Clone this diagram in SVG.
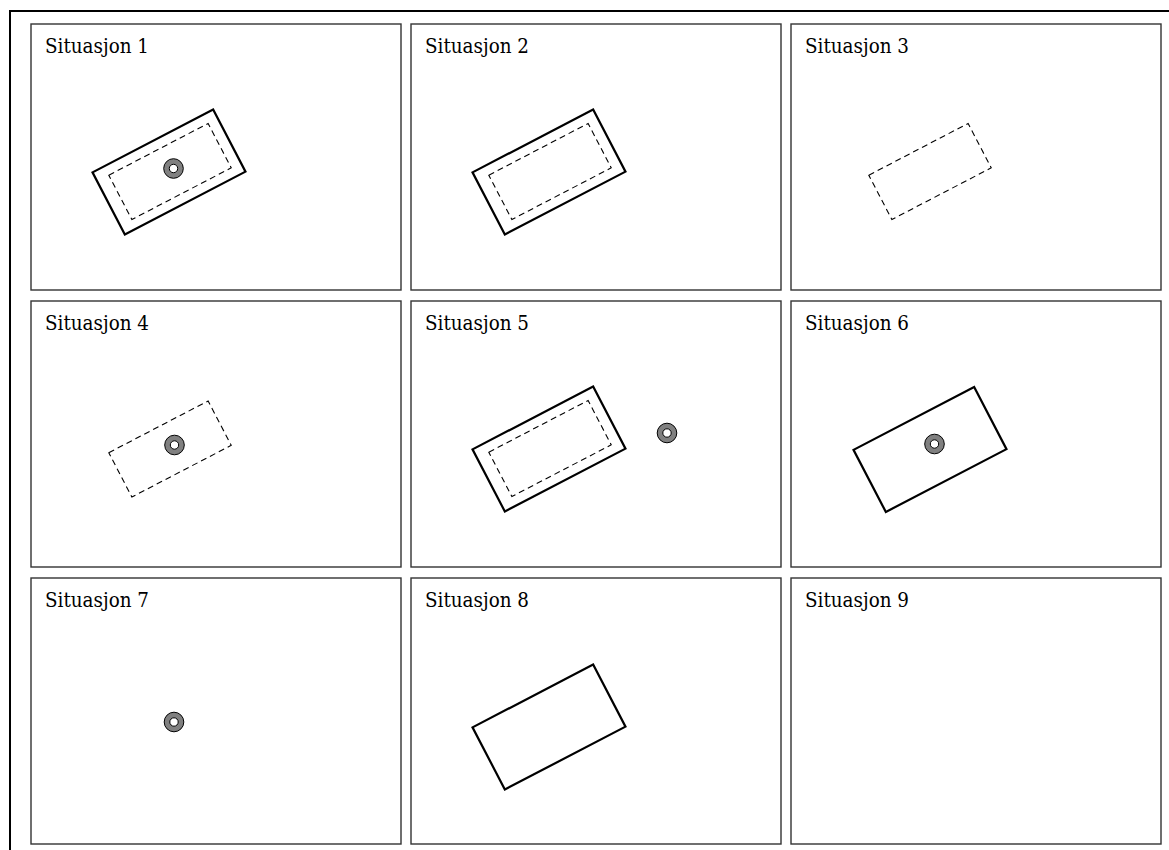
<svg xmlns="http://www.w3.org/2000/svg" xmlns:xlink="http://www.w3.org/1999/xlink" width="1169" height="850" viewBox="0 0 1169 850">
<style>
.frame{fill:none;stroke:#000;stroke-width:2}
.panel{fill:#fff;stroke:#333;stroke-width:1.4}
.solid{fill:none;stroke:#000;stroke-width:2.2}
.dash{fill:none;stroke:#000;stroke-width:1.1;stroke-dasharray:6 4}
.lbl{font-family:"DejaVu Serif","Liberation Serif",serif;font-size:21px;fill:#000}
.ring{fill:#808080;stroke:#000;stroke-width:1}
.hole{fill:#fff;stroke:#000;stroke-width:1}
</style>
<defs>
<rect id="outerR" class="solid" x="-68" y="-35" width="136" height="70"/>
<rect id="innerR" class="dash" x="-56" y="-25" width="112" height="50"/>
<g id="well"><circle class="ring" r="9.8"/><circle class="hole" r="4.2"/></g>
</defs>
<rect width="1169" height="850" fill="#fff"/>
<rect class="frame" x="10" y="11" width="1170" height="850"/>
<g id="p1"><rect class="panel" x="31" y="24" width="370" height="266"/><text class="lbl" x="45" y="53" textLength="104" lengthAdjust="spacingAndGlyphs">Situasjon 1</text>
<use xlink:href="#outerR" transform="translate(169 172) rotate(-27.5)"/><use xlink:href="#innerR" transform="translate(170 171.5) rotate(-27.5)"/><use xlink:href="#well" x="173.5" y="168.5"/></g>
<g id="p2"><rect class="panel" x="411" y="24" width="370" height="266"/><text class="lbl" x="425" y="53" textLength="104" lengthAdjust="spacingAndGlyphs">Situasjon 2</text>
<use xlink:href="#outerR" transform="translate(549 172) rotate(-27.5)"/><use xlink:href="#innerR" transform="translate(550 171.5) rotate(-27.5)"/></g>
<g id="p3"><rect class="panel" x="791" y="24" width="370" height="266"/><text class="lbl" x="805" y="53" textLength="104" lengthAdjust="spacingAndGlyphs">Situasjon 3</text>
<use xlink:href="#innerR" transform="translate(930 171.5) rotate(-27.5)"/></g>
<g id="p4"><rect class="panel" x="31" y="301" width="370" height="266"/><text class="lbl" x="45" y="330" textLength="104" lengthAdjust="spacingAndGlyphs">Situasjon 4</text>
<use xlink:href="#innerR" transform="translate(170 449) rotate(-27.5)"/><use xlink:href="#well" x="174.5" y="445"/></g>
<g id="p5"><rect class="panel" x="411" y="301" width="370" height="266"/><text class="lbl" x="425" y="330" textLength="104" lengthAdjust="spacingAndGlyphs">Situasjon 5</text>
<use xlink:href="#outerR" transform="translate(549 449) rotate(-27.5)"/><use xlink:href="#innerR" transform="translate(550 448.5) rotate(-27.5)"/><use xlink:href="#well" x="667" y="433"/></g>
<g id="p6"><rect class="panel" x="791" y="301" width="370" height="266"/><text class="lbl" x="805" y="330" textLength="104" lengthAdjust="spacingAndGlyphs">Situasjon 6</text>
<use xlink:href="#outerR" transform="translate(930 449.5) rotate(-27.5)"/><use xlink:href="#well" x="934.5" y="444"/></g>
<g id="p7"><rect class="panel" x="31" y="578" width="370" height="266"/><text class="lbl" x="45" y="607" textLength="104" lengthAdjust="spacingAndGlyphs">Situasjon 7</text>
<use xlink:href="#well" x="174" y="722"/></g>
<g id="p8"><rect class="panel" x="411" y="578" width="370" height="266"/><text class="lbl" x="425" y="607" textLength="104" lengthAdjust="spacingAndGlyphs">Situasjon 8</text>
<use xlink:href="#outerR" transform="translate(549 727) rotate(-27.5)"/></g>
<g id="p9"><rect class="panel" x="791" y="578" width="370" height="266"/><text class="lbl" x="805" y="607" textLength="104" lengthAdjust="spacingAndGlyphs">Situasjon 9</text></g>
<g id="connectors"/>
</svg>
